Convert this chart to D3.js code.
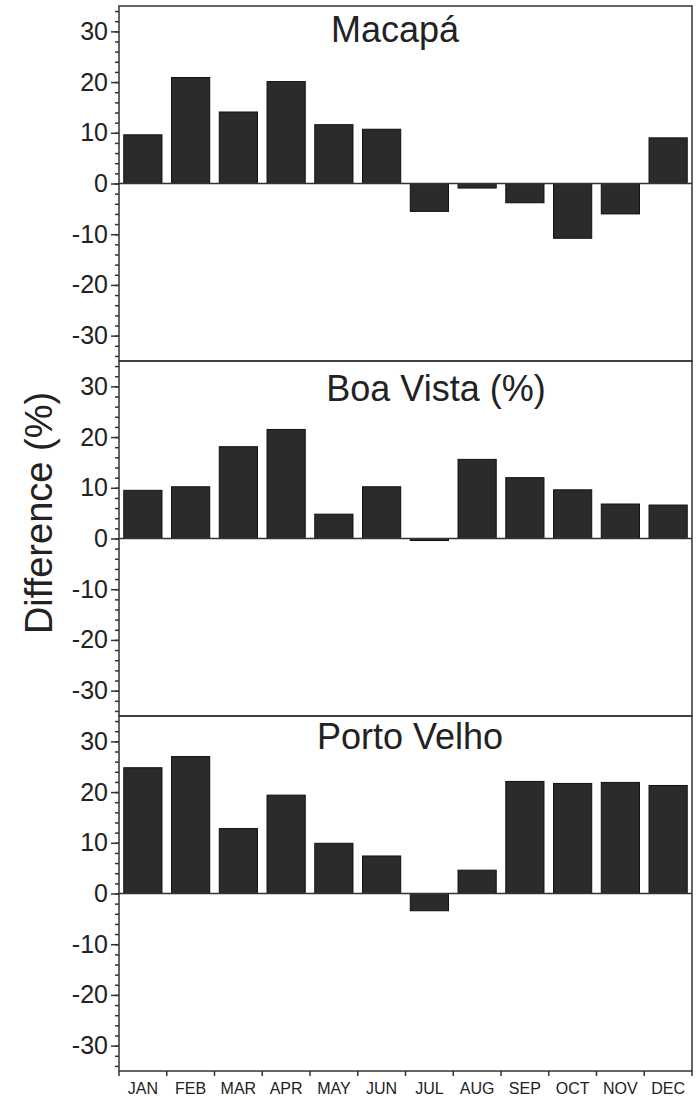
<!DOCTYPE html>
<html>
<head>
<meta charset="utf-8">
<script src="https://d3js.org/d3.v7.min.js"></script>
<style>
  body { margin: 0; background: #fff; }
  svg { display: block; }
  text { font-family: 'Liberation Sans', Arial, sans-serif; fill: #222; }
</style>
</head>
<body>
<div id="vis"></div>
<script>
var months = ['JAN', 'FEB', 'MAR', 'APR', 'MAY', 'JUN', 'JUL', 'AUG', 'SEP', 'OCT', 'NOV', 'DEC'];
var macapa = [9.6, 20.9, 14.1, 20.1, 11.6, 10.7, -5.5, -0.9, -3.8, -10.8, -6.0, 9.0];
var boaVista = [9.5, 10.2, 18.1, 21.5, 4.8, 10.2, -0.4, 15.6, 12.0, 9.6, 6.8, 6.6];
var portoVelho = [24.8, 27.0, 12.8, 19.4, 9.9, 7.4, -3.4, 4.6, 22.1, 21.7, 21.9, 21.3];
var stations = ['Macapá', 'Boa Vista (%)', 'Porto Velho'];
var majorTicks = [-30, -20, -10, 0, 10, 20, 30];
var minorTicks = d3.range(-34, 35, 2);
var yDomain = [-35, 35];

var width = 696;
var height = 1097;
var plotLeft = 119;
var plotRight = 692;
var plotTop = 6;
var panelH = 355;

// title placement per panel (center x, baseline offset)
var titlePos = [
  {x: 395, dy: 36},
  {x: 436, dy: 40},
  {x: 410, dy: 33},
];

var series = [macapa, boaVista, portoVelho];

var svg = d3
  .select('#vis')
  .append('svg')
  .attr('width', width)
  .attr('height', height);

var x = d3
  .scaleBand()
  .domain(months)
  .range([plotLeft, plotRight])
  .paddingInner(0.2)
  .paddingOuter(0.1);

series.forEach(function(values, i) {
  var y0 = plotTop + i * panelH;
  var y = d3.scaleLinear().domain(yDomain).range([y0 + panelH, y0]);
  var g = svg.append('g');

  // bars
  g.selectAll('rect.bar')
    .data(values)
    .enter()
    .append('rect')
    .attr('class', 'bar')
    .attr('x', (d, j) => x(months[j]))
    .attr('width', x.bandwidth())
    .attr('y', d => y(Math.max(0, d)))
    .attr('height', d => Math.abs(y(d) - y(0)))
    .style('fill', '#2b2b2b')
    .style('stroke', '#111')
    .style('stroke-width', 1);

  // zero line
  g.append('line')
    .attr('x1', plotLeft)
    .attr('x2', plotRight)
    .attr('y1', y(0))
    .attr('y2', y(0))
    .style('stroke', '#333')
    .style('stroke-width', 1.5);

  // frame
  g.append('rect')
    .attr('x', plotLeft)
    .attr('y', y0)
    .attr('width', plotRight - plotLeft)
    .attr('height', panelH)
    .style('fill', 'none')
    .style('stroke', '#333')
    .style('stroke-width', 1.5);

  // minor ticks
  var minor = g
    .append('g')
    .attr('transform', `translate(${plotLeft},0)`)
    .call(
      d3.axisLeft(y)
        .tickValues(minorTicks)
        .tickSize(4)
        .tickFormat('')
    );
  minor.select('.domain').remove();

  // major ticks + labels (plain hyphen for negatives)
  var major = g
    .append('g')
    .attr('transform', `translate(${plotLeft},0)`)
    .call(
      d3.axisLeft(y)
        .tickValues(majorTicks)
        .tickSize(8)
        .tickPadding(3)
        .tickFormat(d => String(d))
    );
  major.select('.domain').remove();
  major.selectAll('text')
    .style('font-size', '25px')
    .style('font-family', "'Liberation Sans', Arial, sans-serif")
    .style('fill', '#222');
  g.selectAll('.tick line').style('stroke', '#333').style('stroke-width', 1.5);

  g.append('text')
    .attr('x', titlePos[i].x)
    .attr('y', y0 + titlePos[i].dy)
    .attr('text-anchor', 'middle')
    .style('font-size', '36px')
    .text(stations[i]);
});

// month axis under the last panel
var plotBottom = plotTop + 3 * panelH;
svg
  .append('g')
  .selectAll('line')
  .data(d3.range(months.length + 1))
  .enter()
  .append('line')
  .attr('x1', d => plotLeft + d * x.step())
  .attr('x2', d => plotLeft + d * x.step())
  .attr('y1', plotBottom)
  .attr('y2', plotBottom + 5)
  .style('stroke', '#333')
  .style('stroke-width', 1.5);

svg
  .append('g')
  .selectAll('text')
  .data(months)
  .enter()
  .append('text')
  .attr('x', d => x(d) + x.bandwidth() / 2)
  .attr('y', plotBottom + 23)
  .attr('text-anchor', 'middle')
  .style('font-size', '16px')
  .text(d => d);

// y axis title
svg
  .append('text')
  .attr('transform', 'translate(52,513) rotate(-90)')
  .attr('text-anchor', 'middle')
  .style('font-size', '38px')
  .text('Difference (%)');
</script>
</body>
</html>
